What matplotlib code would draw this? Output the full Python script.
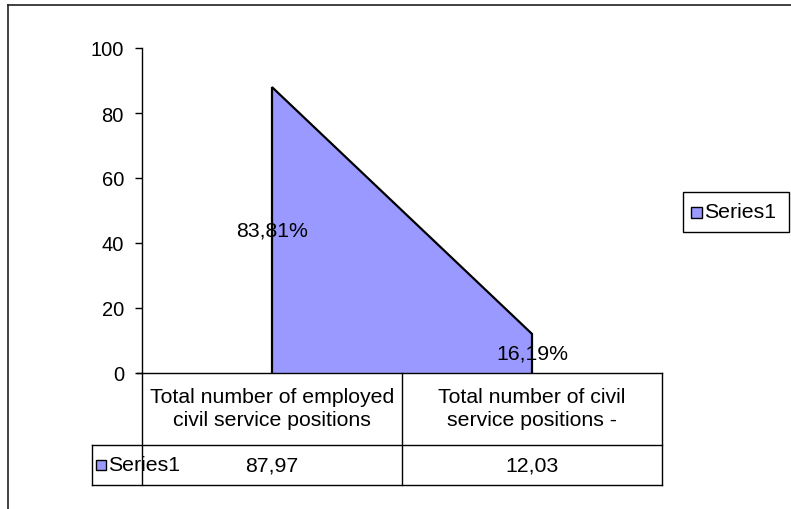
import matplotlib
matplotlib.use("Agg")
import matplotlib.pyplot as plt
from matplotlib.lines import Line2D
from matplotlib.patches import Rectangle

plt.rcParams['font.family'] = ['Liberation Sans', 'DejaVu Sans']

categories = ["Total number of employed\ncivil service positions",
              "Total number of civil\nservice positions -"]
values = [87.97, 12.03]
pct_labels = ["83,81%", "16,19%"]
series_name = "Series1"
yticks = [0, 20, 40, 60, 80, 100]

FS_T = 14.5
FS = 15.3
W, H = 791, 510
fig = plt.figure(figsize=(W / 100, H / 100), dpi=100)
fig.patch.set_facecolor('white')

def fx(px):
    return px / W

def fy(py):
    return 1 - py / H

# plot area
x0, x1, ytop, ybot = 142, 662, 49, 374
ax = fig.add_axes([fx(x0), fy(ybot), fx(x1) - fx(x0), fy(ytop) - fy(ybot)])
fill = '#9999FF'
xs = list(range(len(values)))
ax.fill_between(xs, values, 0, facecolor=fill, edgecolor='none')
ax.plot([xs[0]] + xs + [xs[-1]], [0] + values + [0], color='black', lw=1.6,
        solid_joinstyle='miter')
ax.set_xlim(-0.5, len(values) - 0.5)
ax.set_ylim(0, 100)
ax.set_yticks(yticks)
ax.set_yticklabels([str(t) for t in yticks], fontsize=FS_T)
ax.tick_params(axis='y', direction='out', length=5, width=1, pad=8)
ax.set_xticks([])
for s in ['top', 'right', 'bottom']:
    ax.spines[s].set_visible(False)
ax.spines['left'].set_linewidth(1)
for x, v, lab in zip(xs, values, pct_labels):
    ax.text(x, v / 2, lab, ha='center', va='center', fontsize=FS)

# data table
lc = '#000000'
lw = 1.0
def hline(y, xa, xb):
    fig.add_artist(Line2D([fx(xa), fx(xb)], [fy(y), fy(y)], color=lc, lw=lw))
def vline(x, ya, yb):
    fig.add_artist(Line2D([fx(x), fx(x)], [fy(ya), fy(yb)], color=lc, lw=lw))

r1b, r2b, left2 = 446, 486, 92
hline(ybot, x0 - 5, x1)
hline(r1b, left2, x1)
hline(r2b, left2, x1)
vline(x0, ybot, r2b)
vline(x1, ybot, r2b)
ncat = len(categories)
colw = (x1 - x0) / ncat
for i in range(1, ncat):
    vline(x0 + colw * i, ybot, r2b)
vline(left2, r1b, r2b)
for i, (c, v) in enumerate(zip(categories, values)):
    cx = x0 + colw * (i + 0.5)
    fig.text(fx(cx), fy((ybot + r1b) / 2 - 1), c, ha='center', va='center',
             fontsize=FS, linespacing=1.32)
    fig.text(fx(cx), fy((r1b + r2b) / 2), f"{v:.2f}".replace('.', ','),
             ha='center', va='center', fontsize=FS)
fig.add_artist(Rectangle((fx(96), fy(471)), fx(10), fy(461) - fy(471),
                         facecolor=fill, edgecolor='black', lw=1))
fig.text(fx(108), fy((r1b + r2b) / 2), series_name, ha='left', va='center', fontsize=FS)

# legend
fig.add_artist(Rectangle((fx(683), fy(233)), fx(789) - fx(683), fy(193) - fy(233),
                         facecolor='white', edgecolor='black', lw=1))
fig.add_artist(Rectangle((fx(691), fy(219)), fx(11), fy(208) - fy(219),
                         facecolor=fill, edgecolor='black', lw=1))
fig.text(fx(704), fy(213), series_name, ha='left', va='center', fontsize=FS)

# outer border (top and left)
fig.add_artist(Line2D([fx(8), fx(8)], [fy(6), fy(510)], color='#222222', lw=1.2))
fig.add_artist(Line2D([fx(8), fx(791)], [fy(6), fy(6)], color='#222222', lw=1.2))

fig.savefig('out.png', dpi=100, facecolor='white')
